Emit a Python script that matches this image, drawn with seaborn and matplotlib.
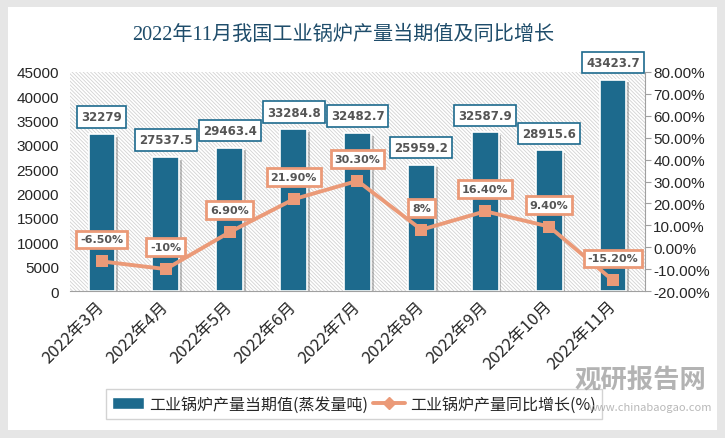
import numpy as np
import pandas as pd
import matplotlib
matplotlib.use("Agg")
import matplotlib.pyplot as plt
import matplotlib.patheffects as pe
from matplotlib.patches import Rectangle
import seaborn as sns

months = ['2022年3月', '2022年4月', '2022年5月', '2022年6月', '2022年7月',
          '2022年8月', '2022年9月', '2022年10月', '2022年11月']
production = [32279, 27537.5, 29463.4, 33284.8, 32482.7, 25959.2, 32587.9, 28915.6, 43423.7]
prod_labels = ['32279', '27537.5', '29463.4', '33284.8', '32482.7', '25959.2', '32587.9', '28915.6', '43423.7']
growth = [-6.5, -10, 6.9, 21.9, 30.3, 8, 16.4, 9.4, -15.2]
growth_labels = ['-6.50%', '-10%', '6.90%', '21.90%', '30.30%', '8%', '16.40%', '9.40%', '-15.20%']

bar_name = '工业锅炉产量当期值(蒸发量吨)'
line_name = '工业锅炉产量同比增长(%)'
title = '2022年11月我国工业锅炉产量当期值及同比增长'

bar_color = '#1d6a8d'
line_color = '#eb9a78'
title_color = '#1f4d6b'

sns.set_style('white')
plt.rcParams['font.family'] = ['Noto Sans CJK SC', 'DejaVu Sans']
plt.rcParams['hatch.linewidth'] = 0.6
num_font = ['Liberation Sans Narrow', 'Liberation Sans', 'DejaVu Sans']

df = pd.DataFrame({'month': months, 'prod': production, 'growth': growth})

fig = plt.figure(figsize=(7.25, 4.39), dpi=100)
fig.patch.set_facecolor('#e6e6e6')
fig.patches.append(Rectangle((8 / 725, 8 / 439), 709 / 725, 423 / 439, transform=fig.transFigure,
                             facecolor='white', edgecolor='none', zorder=-5))

ax = fig.add_axes([70 / 725, 1 - 292 / 439, 575 / 725, 219 / 439])
ax.patch.set_alpha(0)
ax.add_patch(Rectangle((0, 0), 1, 1, transform=ax.transAxes, facecolor='white',
                       edgecolor='#d2d2d2', hatch='\\' * 9, lw=0, zorder=0))

sns.barplot(data=df, x='month', y='prod', ax=ax, color=bar_color, width=0.42,
            edgecolor='white', linewidth=1.2, saturation=1, zorder=2)
for bar in ax.patches[1:]:
    bar.set_path_effects([pe.SimplePatchShadow(offset=(2, -2), shadow_rgbFace='#555555', alpha=0.35),
                          pe.Normal()])

ax.set_xlim(-0.5, 8.5)
ax.set_ylim(0, 45000)
ax.set_yticks(range(0, 45001, 5000))
ax.set_xlabel('')
ax.set_ylabel('')
for s in ['top', 'left', 'right']:
    ax.spines[s].set_visible(False)
ax.spines['bottom'].set_color('#a0a0a0')
ax.tick_params(axis='y', length=0, pad=8, labelsize=11)
ax.tick_params(axis='x', length=0, pad=9, labelsize=12)
for t in ax.get_yticklabels():
    t.set_fontfamily(num_font)
for t in ax.get_xticklabels():
    t.set_rotation(45)
    t.set_ha('right')
    t.set_va('center')
    t.set_rotation_mode('anchor')

for i, v in enumerate(production):
    ax.annotate(prod_labels[i], (i, v), xytext=(0, 17), textcoords='offset pixels',
                ha='center', va='center', fontsize=8.5, color='#555555', fontweight='bold',
                family=['DejaVu Sans'], zorder=5,
                bbox=dict(boxstyle='square,pad=0.35', fc='white', ec=bar_color, lw=1.2))

ax2 = ax.twinx()
sns.lineplot(x=np.arange(len(growth)), y=growth, ax=ax2, color=line_color, lw=2.8,
             marker='s', markersize=8, markeredgewidth=0, zorder=3)
ax2.set_ylim(-20, 80)
ax2.set_yticks(range(-20, 81, 10))
ax2.set_yticklabels([f'{v:.2f}%' for v in range(-20, 81, 10)], family=num_font, fontsize=11)
for s in ['top', 'left', 'bottom']:
    ax2.spines[s].set_visible(False)
ax2.spines['right'].set_color('#a0a0a0')
ax2.tick_params(axis='y', length=4, color='#a0a0a0', pad=2)

for i, v in enumerate(growth):
    ax2.annotate(growth_labels[i], (i, v), xytext=(0, 22), textcoords='offset pixels',
                 ha='center', va='center', fontsize=8, color='#555555', fontweight='bold',
                 family=['DejaVu Sans'], zorder=6,
                 bbox=dict(boxstyle='square,pad=0.35', fc='white', ec=line_color, lw=2))

fig.text(343 / 725, 1 - 35 / 439, title, ha='center', va='center', fontsize=14.5, color=title_color,
         family=['Liberation Serif', 'Noto Sans CJK SC'])

handles = [Rectangle((0, 0), 1, 1, fc=bar_color),
           plt.Line2D([], [], color=line_color, lw=2.8, marker='D', markersize=6)]
leg = fig.legend(handles, [bar_name, line_name], loc='center', ncol=2,
                 bbox_to_anchor=(354 / 725, 1 - 405 / 439), fontsize=11.5, frameon=True,
                 fancybox=False, edgecolor='#c8c8c8', handlelength=2.0, handletextpad=0.3,
                 columnspacing=0.3, borderpad=0.4)
leg.get_frame().set_linewidth(1)

# watermark
fig.text(640 / 725, 1 - 381 / 439, '观研报告网', ha='center', va='center', fontsize=19,
         fontweight='bold', color='#9a9a9a', alpha=0.75, zorder=10)
fig.text(712 / 725, 1 - 408 / 439, 'www.chinabaogao.com', ha='right', va='center', fontsize=8,
         color='#9a9a9a', alpha=0.7, zorder=10)

fig.savefig('out.png', dpi=100, facecolor=fig.get_facecolor())
